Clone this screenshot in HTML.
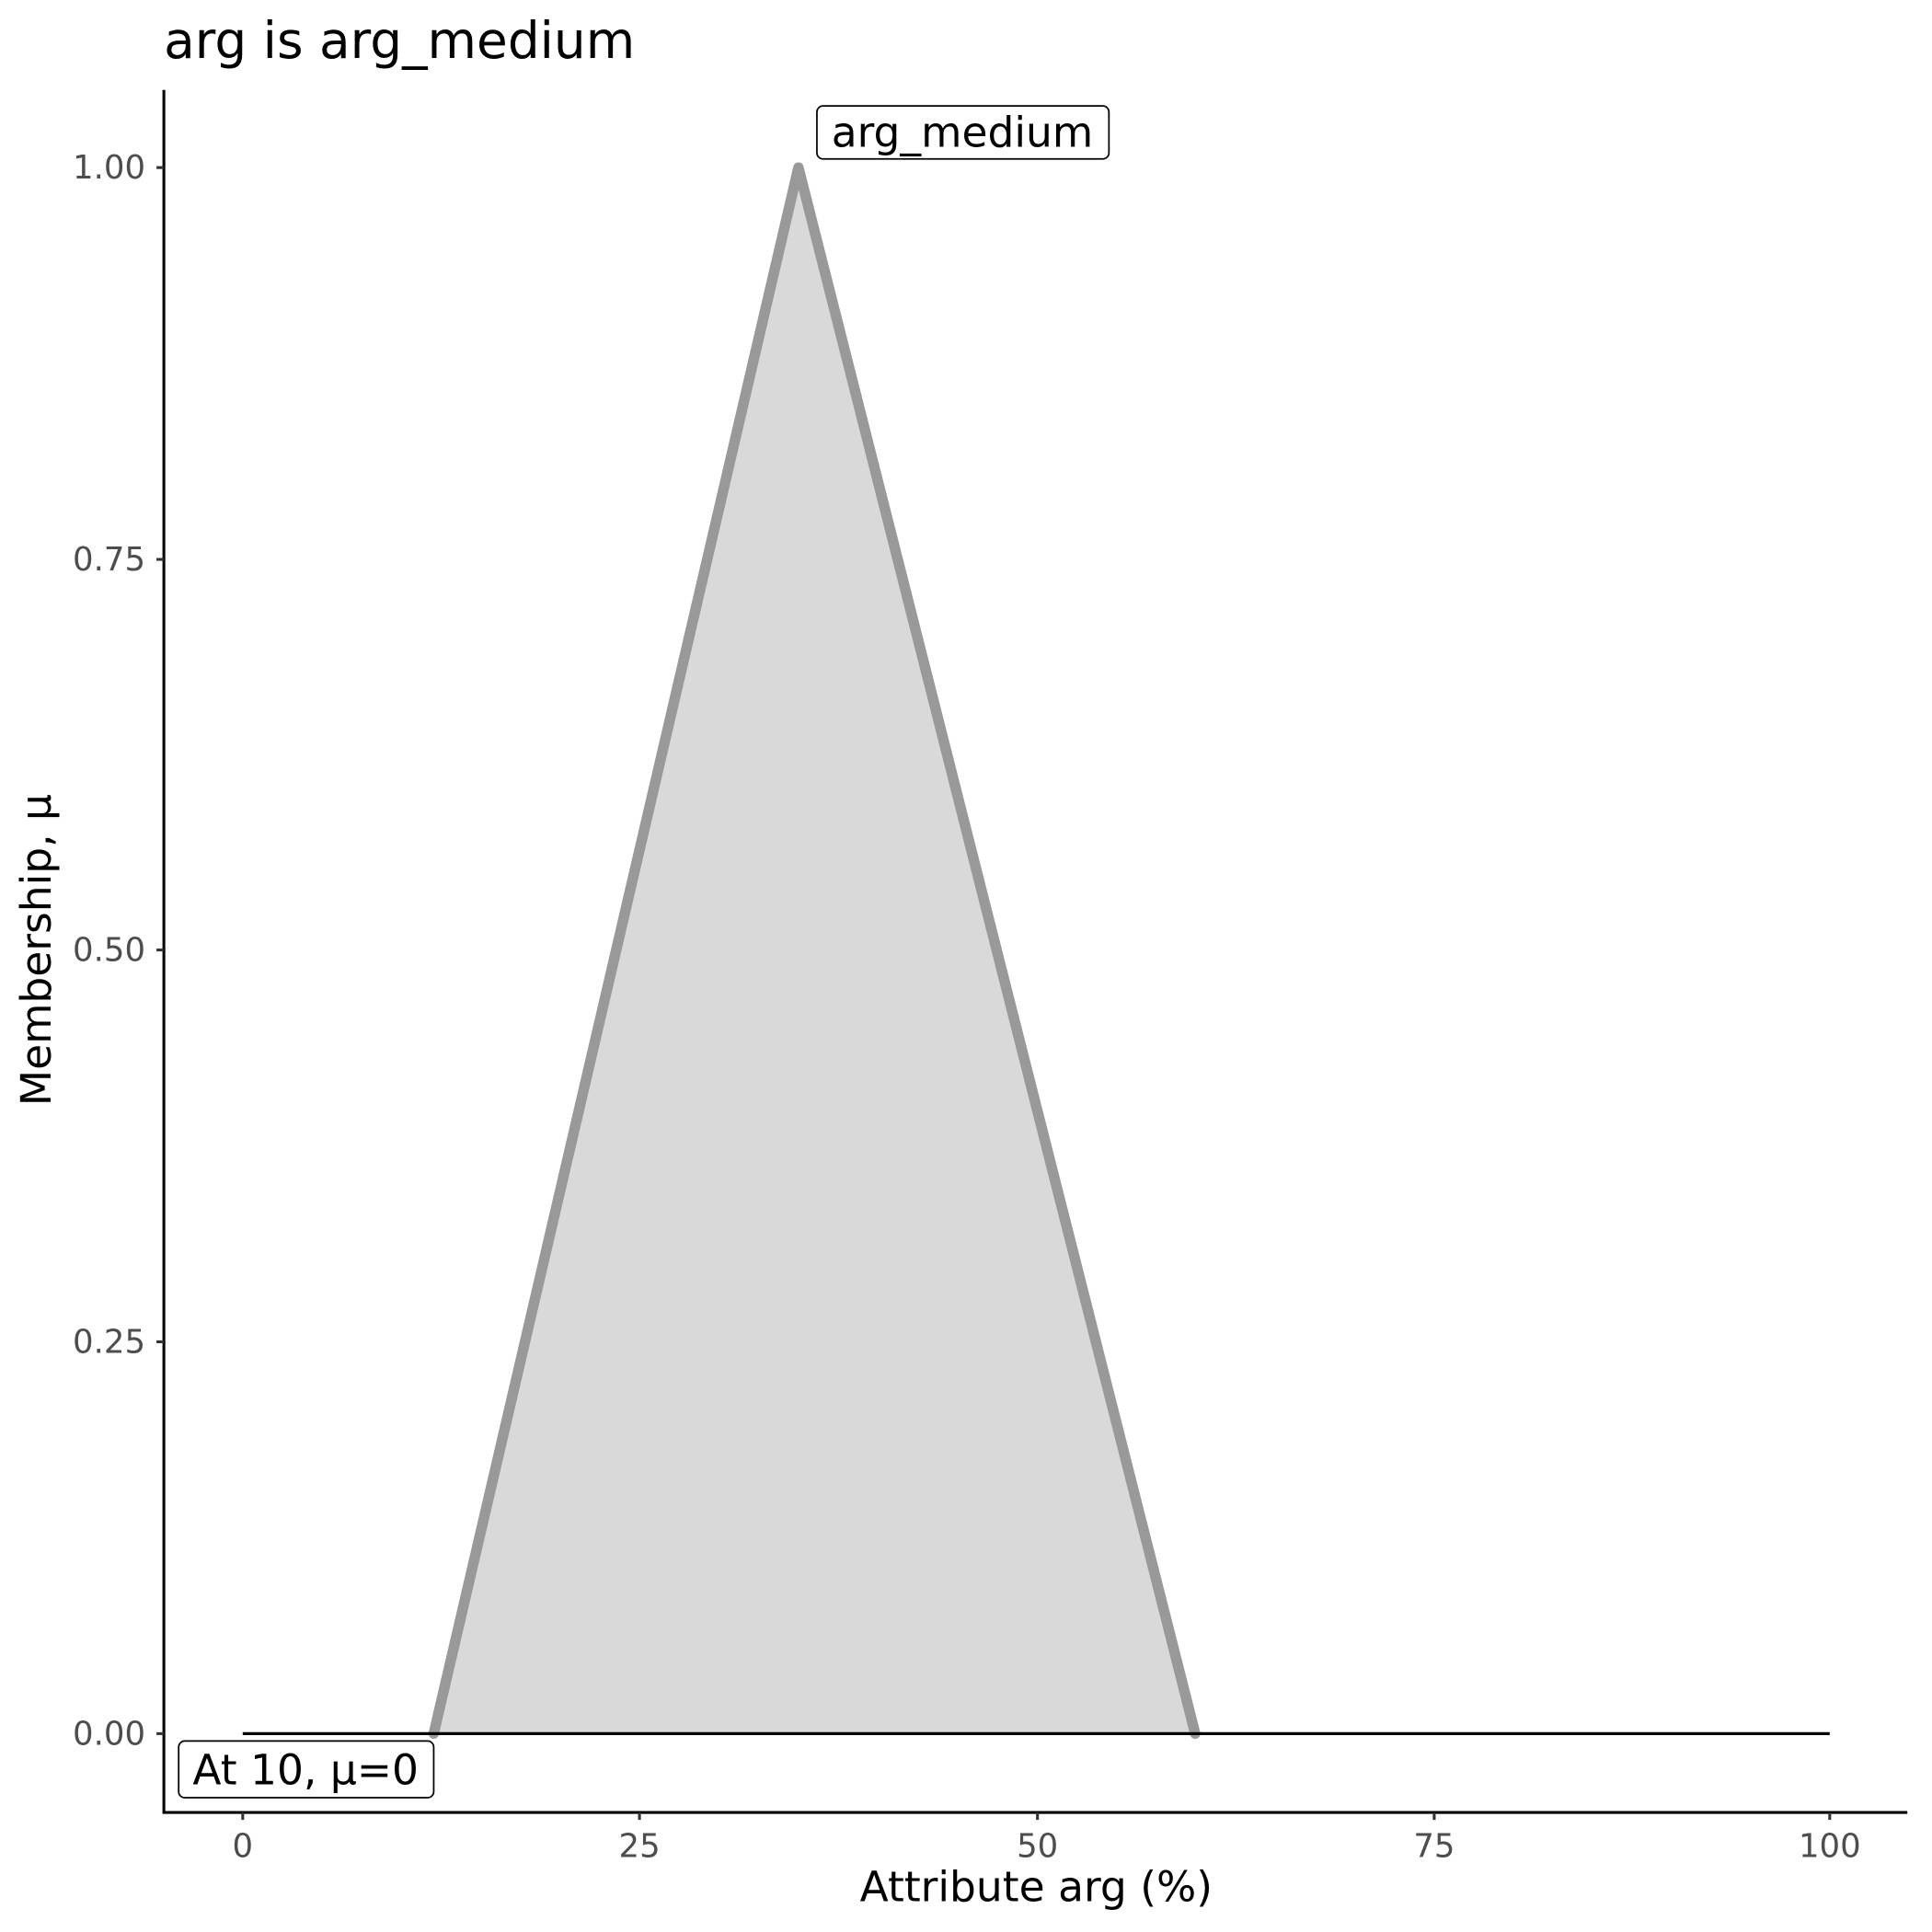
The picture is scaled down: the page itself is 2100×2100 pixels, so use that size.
<!DOCTYPE html>
<html><head><style>html,body{margin:0;padding:0;background:#fff}svg{display:block}</style></head>
<body>
<svg width="2100" height="2100" viewBox="0 0 1568 1568" xmlns="http://www.w3.org/2000/svg" font-family="'DejaVu Sans','Liberation Sans',sans-serif">
<rect width="1568" height="1568" fill="#fff"/>
<text x="133" y="47" font-size="41" fill="#000">arg is arg_medium</text>
<polygon points="352,1407 648,136 970,1407" fill="#d9d9d9"/>
<polyline points="352,1407 648,136 970,1407" fill="none" stroke="#999" stroke-width="8.5" stroke-linejoin="round" stroke-linecap="round"/>
<line x1="197" y1="1407" x2="1485" y2="1407" stroke="#000" stroke-width="2.5"/>
<line x1="133" y1="73" x2="133" y2="1472" stroke="#000" stroke-width="2.3"/>
<line x1="132" y1="1471" x2="1548" y2="1471" stroke="#000" stroke-width="2.3"/>
<g stroke="#333" stroke-width="2.3">
<line x1="127" y1="136" x2="133" y2="136"/><line x1="127" y1="454" x2="133" y2="454"/><line x1="127" y1="771" x2="133" y2="771"/><line x1="127" y1="1089" x2="133" y2="1089"/><line x1="127" y1="1407" x2="133" y2="1407"/>
<line x1="197" y1="1471" x2="197" y2="1477"/><line x1="519" y1="1471" x2="519" y2="1477"/><line x1="842" y1="1471" x2="842" y2="1477"/><line x1="1164" y1="1471" x2="1164" y2="1477"/><line x1="1485" y1="1471" x2="1485" y2="1477"/>
</g>
<g font-size="26.5" fill="#4d4d4d" text-anchor="end">
<text x="118" y="145">1.00</text><text x="118" y="463">0.75</text><text x="118" y="780">0.50</text><text x="118" y="1098">0.25</text><text x="118" y="1416">0.00</text>
</g>
<g font-size="26.5" fill="#4d4d4d" text-anchor="middle">
<text x="197" y="1507">0</text><text x="519" y="1507">25</text><text x="842" y="1507">50</text><text x="1164" y="1507">75</text><text x="1485" y="1507">100</text>
</g>
<text x="841" y="1543" font-size="34" text-anchor="middle" fill="#000">Attribute arg (%)</text>
<text transform="translate(41,771) rotate(-90)" font-size="34" text-anchor="middle" fill="#000">Membership, μ</text>
<rect x="663" y="86" width="237" height="43" rx="5" fill="#fff" stroke="#000" stroke-width="1.3"/>
<text x="781" y="119" font-size="34" text-anchor="middle" fill="#000">arg_medium</text>
<rect x="145" y="1413" width="207" height="46" rx="5" fill="#fff" stroke="#000" stroke-width="1.3"/>
<text x="248" y="1448" font-size="34" text-anchor="middle" fill="#000">At 10, μ=0</text>
</svg>
</body></html>
